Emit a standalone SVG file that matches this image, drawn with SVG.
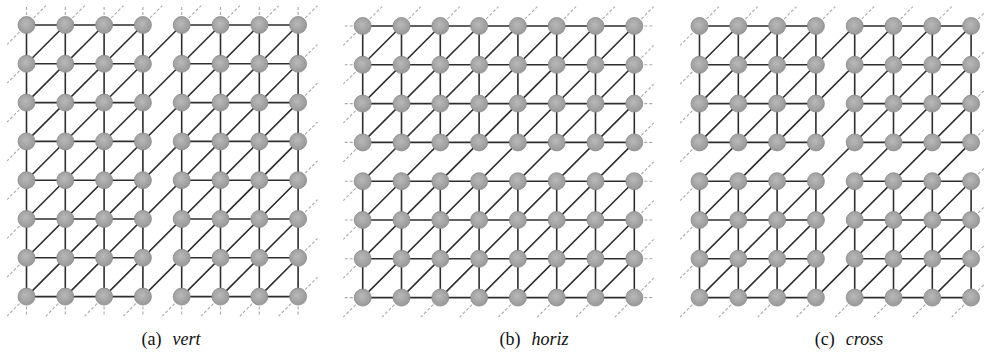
<svg xmlns="http://www.w3.org/2000/svg" width="985" height="354" viewBox="0 0 985 354">
<style>
.e{fill:none;stroke:#2e2e2e;stroke-width:1.6}
.d{fill:none;stroke:#aaaaaa;stroke-width:1.1;stroke-dasharray:3 2}
.nd{fill:url(#ng);stroke:#8a8a8a;stroke-width:0.8}
.cap{font-family:"Liberation Serif","Times New Roman",serif;font-size:18px;fill:#111}
.it{font-style:italic}
</style>
<defs>
<radialGradient id="ng" cx="45%" cy="42%" r="60%">
<stop offset="0" stop-color="#b9b9b9"/>
<stop offset="1" stop-color="#979797"/>
</radialGradient>
<circle id="nd" class="nd" r="8.5"/>
<path id="diag" class="e" d="M0 38.8L38.8 0M0 77.6L77.6 0M0 116.4L116.4 0M0 155.2L155.2 0M0 194L194 0M0 232.8L232.8 0M0 271.6L271.6 0M38.8 271.6L271.6 38.8M77.6 271.6L271.6 77.6M116.4 271.6L271.6 116.4M155.2 271.6L271.6 155.2M194 271.6L271.6 194M232.8 271.6L271.6 232.8"/>
<path id="dstub" class="d" d="M0 0l-19.4 19.4M0 38.8l-19.4 19.4M0 77.6l-19.4 19.4M0 116.4l-19.4 19.4M0 155.2l-19.4 19.4M0 194l-19.4 19.4M0 232.8l-19.4 19.4M0 271.6l-19.4 19.4M38.8 271.6l-19.4 19.4M77.6 271.6l-19.4 19.4M116.4 271.6l-19.4 19.4M155.2 271.6l-19.4 19.4M194 271.6l-19.4 19.4M232.8 271.6l-19.4 19.4M271.6 271.6l-19.4 19.4M0 0l19.4 -19.4M38.8 0l19.4 -19.4M77.6 0l19.4 -19.4M116.4 0l19.4 -19.4M155.2 0l19.4 -19.4M194 0l19.4 -19.4M232.8 0l19.4 -19.4M271.6 0l19.4 -19.4M271.6 38.8l19.4 -19.4M271.6 77.6l19.4 -19.4M271.6 116.4l19.4 -19.4M271.6 155.2l19.4 -19.4M271.6 194l19.4 -19.4M271.6 232.8l19.4 -19.4M271.6 271.6l19.4 -19.4"/>
</defs>

<!-- Panel (a) vert -->
<g id="panel-a" transform="translate(26.5,25)">
<g id="a-connectors">
<use href="#dstub"/>
<path class="d" d="M0 0v-19M38.8 0v-19M77.6 0v-19M116.4 0v-19M155.2 0v-19M194 0v-19M232.8 0v-19M271.6 0v-19M0 271.6v19M38.8 271.6v19M77.6 271.6v19M116.4 271.6v19M155.2 271.6v19M194 271.6v19M232.8 271.6v19M271.6 271.6v19"/>
<path class="e" d="M0 0H116.4M155.2 0H271.6M0 38.8H116.4M155.2 38.8H271.6M0 77.6H116.4M155.2 77.6H271.6M0 116.4H116.4M155.2 116.4H271.6M0 155.2H116.4M155.2 155.2H271.6M0 194H116.4M155.2 194H271.6M0 232.8H116.4M155.2 232.8H271.6M0 271.6H116.4M155.2 271.6H271.6"/>
<path class="e" d="M0 0V271.6M38.8 0V271.6M77.6 0V271.6M116.4 0V271.6M155.2 0V271.6M194 0V271.6M232.8 0V271.6M271.6 0V271.6"/>
<use href="#diag"/>
</g>
<g id="a-nodes">
<g id="a-0-0"><use href="#nd" x="0" y="0"/></g><g id="a-0-1"><use href="#nd" x="38.8" y="0"/></g><g id="a-0-2"><use href="#nd" x="77.6" y="0"/></g><g id="a-0-3"><use href="#nd" x="116.4" y="0"/></g><g id="a-0-4"><use href="#nd" x="155.2" y="0"/></g><g id="a-0-5"><use href="#nd" x="194" y="0"/></g><g id="a-0-6"><use href="#nd" x="232.8" y="0"/></g><g id="a-0-7"><use href="#nd" x="271.6" y="0"/></g>
<g id="a-1-0"><use href="#nd" x="0" y="38.8"/></g><g id="a-1-1"><use href="#nd" x="38.8" y="38.8"/></g><g id="a-1-2"><use href="#nd" x="77.6" y="38.8"/></g><g id="a-1-3"><use href="#nd" x="116.4" y="38.8"/></g><g id="a-1-4"><use href="#nd" x="155.2" y="38.8"/></g><g id="a-1-5"><use href="#nd" x="194" y="38.8"/></g><g id="a-1-6"><use href="#nd" x="232.8" y="38.8"/></g><g id="a-1-7"><use href="#nd" x="271.6" y="38.8"/></g>
<g id="a-2-0"><use href="#nd" x="0" y="77.6"/></g><g id="a-2-1"><use href="#nd" x="38.8" y="77.6"/></g><g id="a-2-2"><use href="#nd" x="77.6" y="77.6"/></g><g id="a-2-3"><use href="#nd" x="116.4" y="77.6"/></g><g id="a-2-4"><use href="#nd" x="155.2" y="77.6"/></g><g id="a-2-5"><use href="#nd" x="194" y="77.6"/></g><g id="a-2-6"><use href="#nd" x="232.8" y="77.6"/></g><g id="a-2-7"><use href="#nd" x="271.6" y="77.6"/></g>
<g id="a-3-0"><use href="#nd" x="0" y="116.4"/></g><g id="a-3-1"><use href="#nd" x="38.8" y="116.4"/></g><g id="a-3-2"><use href="#nd" x="77.6" y="116.4"/></g><g id="a-3-3"><use href="#nd" x="116.4" y="116.4"/></g><g id="a-3-4"><use href="#nd" x="155.2" y="116.4"/></g><g id="a-3-5"><use href="#nd" x="194" y="116.4"/></g><g id="a-3-6"><use href="#nd" x="232.8" y="116.4"/></g><g id="a-3-7"><use href="#nd" x="271.6" y="116.4"/></g>
<g id="a-4-0"><use href="#nd" x="0" y="155.2"/></g><g id="a-4-1"><use href="#nd" x="38.8" y="155.2"/></g><g id="a-4-2"><use href="#nd" x="77.6" y="155.2"/></g><g id="a-4-3"><use href="#nd" x="116.4" y="155.2"/></g><g id="a-4-4"><use href="#nd" x="155.2" y="155.2"/></g><g id="a-4-5"><use href="#nd" x="194" y="155.2"/></g><g id="a-4-6"><use href="#nd" x="232.8" y="155.2"/></g><g id="a-4-7"><use href="#nd" x="271.6" y="155.2"/></g>
<g id="a-5-0"><use href="#nd" x="0" y="194"/></g><g id="a-5-1"><use href="#nd" x="38.8" y="194"/></g><g id="a-5-2"><use href="#nd" x="77.6" y="194"/></g><g id="a-5-3"><use href="#nd" x="116.4" y="194"/></g><g id="a-5-4"><use href="#nd" x="155.2" y="194"/></g><g id="a-5-5"><use href="#nd" x="194" y="194"/></g><g id="a-5-6"><use href="#nd" x="232.8" y="194"/></g><g id="a-5-7"><use href="#nd" x="271.6" y="194"/></g>
<g id="a-6-0"><use href="#nd" x="0" y="232.8"/></g><g id="a-6-1"><use href="#nd" x="38.8" y="232.8"/></g><g id="a-6-2"><use href="#nd" x="77.6" y="232.8"/></g><g id="a-6-3"><use href="#nd" x="116.4" y="232.8"/></g><g id="a-6-4"><use href="#nd" x="155.2" y="232.8"/></g><g id="a-6-5"><use href="#nd" x="194" y="232.8"/></g><g id="a-6-6"><use href="#nd" x="232.8" y="232.8"/></g><g id="a-6-7"><use href="#nd" x="271.6" y="232.8"/></g>
<g id="a-7-0"><use href="#nd" x="0" y="271.6"/></g><g id="a-7-1"><use href="#nd" x="38.8" y="271.6"/></g><g id="a-7-2"><use href="#nd" x="77.6" y="271.6"/></g><g id="a-7-3"><use href="#nd" x="116.4" y="271.6"/></g><g id="a-7-4"><use href="#nd" x="155.2" y="271.6"/></g><g id="a-7-5"><use href="#nd" x="194" y="271.6"/></g><g id="a-7-6"><use href="#nd" x="232.8" y="271.6"/></g><g id="a-7-7"><use href="#nd" x="271.6" y="271.6"/></g>
</g>
</g>

<!-- Panel (b) horiz -->
<g id="panel-b" transform="translate(362.7,26)">
<g id="b-connectors">
<use href="#dstub"/>
<path class="d" d="M0 0h-19M0 38.8h-19M0 77.6h-19M0 116.4h-19M0 155.2h-19M0 194h-19M0 232.8h-19M0 271.6h-19M271.6 0h19M271.6 38.8h19M271.6 77.6h19M271.6 116.4h19M271.6 155.2h19M271.6 194h19M271.6 232.8h19M271.6 271.6h19"/>
<path class="e" d="M0 0H271.6M0 38.8H271.6M0 77.6H271.6M0 116.4H271.6M0 155.2H271.6M0 194H271.6M0 232.8H271.6M0 271.6H271.6"/>
<path class="e" d="M0 0V116.4M0 155.2V271.6M38.8 0V116.4M38.8 155.2V271.6M77.6 0V116.4M77.6 155.2V271.6M116.4 0V116.4M116.4 155.2V271.6M155.2 0V116.4M155.2 155.2V271.6M194 0V116.4M194 155.2V271.6M232.8 0V116.4M232.8 155.2V271.6M271.6 0V116.4M271.6 155.2V271.6"/>
<use href="#diag"/>
</g>
<g id="b-nodes">
<g id="b-0-0"><use href="#nd" x="0" y="0"/></g><g id="b-0-1"><use href="#nd" x="38.8" y="0"/></g><g id="b-0-2"><use href="#nd" x="77.6" y="0"/></g><g id="b-0-3"><use href="#nd" x="116.4" y="0"/></g><g id="b-0-4"><use href="#nd" x="155.2" y="0"/></g><g id="b-0-5"><use href="#nd" x="194" y="0"/></g><g id="b-0-6"><use href="#nd" x="232.8" y="0"/></g><g id="b-0-7"><use href="#nd" x="271.6" y="0"/></g>
<g id="b-1-0"><use href="#nd" x="0" y="38.8"/></g><g id="b-1-1"><use href="#nd" x="38.8" y="38.8"/></g><g id="b-1-2"><use href="#nd" x="77.6" y="38.8"/></g><g id="b-1-3"><use href="#nd" x="116.4" y="38.8"/></g><g id="b-1-4"><use href="#nd" x="155.2" y="38.8"/></g><g id="b-1-5"><use href="#nd" x="194" y="38.8"/></g><g id="b-1-6"><use href="#nd" x="232.8" y="38.8"/></g><g id="b-1-7"><use href="#nd" x="271.6" y="38.8"/></g>
<g id="b-2-0"><use href="#nd" x="0" y="77.6"/></g><g id="b-2-1"><use href="#nd" x="38.8" y="77.6"/></g><g id="b-2-2"><use href="#nd" x="77.6" y="77.6"/></g><g id="b-2-3"><use href="#nd" x="116.4" y="77.6"/></g><g id="b-2-4"><use href="#nd" x="155.2" y="77.6"/></g><g id="b-2-5"><use href="#nd" x="194" y="77.6"/></g><g id="b-2-6"><use href="#nd" x="232.8" y="77.6"/></g><g id="b-2-7"><use href="#nd" x="271.6" y="77.6"/></g>
<g id="b-3-0"><use href="#nd" x="0" y="116.4"/></g><g id="b-3-1"><use href="#nd" x="38.8" y="116.4"/></g><g id="b-3-2"><use href="#nd" x="77.6" y="116.4"/></g><g id="b-3-3"><use href="#nd" x="116.4" y="116.4"/></g><g id="b-3-4"><use href="#nd" x="155.2" y="116.4"/></g><g id="b-3-5"><use href="#nd" x="194" y="116.4"/></g><g id="b-3-6"><use href="#nd" x="232.8" y="116.4"/></g><g id="b-3-7"><use href="#nd" x="271.6" y="116.4"/></g>
<g id="b-4-0"><use href="#nd" x="0" y="155.2"/></g><g id="b-4-1"><use href="#nd" x="38.8" y="155.2"/></g><g id="b-4-2"><use href="#nd" x="77.6" y="155.2"/></g><g id="b-4-3"><use href="#nd" x="116.4" y="155.2"/></g><g id="b-4-4"><use href="#nd" x="155.2" y="155.2"/></g><g id="b-4-5"><use href="#nd" x="194" y="155.2"/></g><g id="b-4-6"><use href="#nd" x="232.8" y="155.2"/></g><g id="b-4-7"><use href="#nd" x="271.6" y="155.2"/></g>
<g id="b-5-0"><use href="#nd" x="0" y="194"/></g><g id="b-5-1"><use href="#nd" x="38.8" y="194"/></g><g id="b-5-2"><use href="#nd" x="77.6" y="194"/></g><g id="b-5-3"><use href="#nd" x="116.4" y="194"/></g><g id="b-5-4"><use href="#nd" x="155.2" y="194"/></g><g id="b-5-5"><use href="#nd" x="194" y="194"/></g><g id="b-5-6"><use href="#nd" x="232.8" y="194"/></g><g id="b-5-7"><use href="#nd" x="271.6" y="194"/></g>
<g id="b-6-0"><use href="#nd" x="0" y="232.8"/></g><g id="b-6-1"><use href="#nd" x="38.8" y="232.8"/></g><g id="b-6-2"><use href="#nd" x="77.6" y="232.8"/></g><g id="b-6-3"><use href="#nd" x="116.4" y="232.8"/></g><g id="b-6-4"><use href="#nd" x="155.2" y="232.8"/></g><g id="b-6-5"><use href="#nd" x="194" y="232.8"/></g><g id="b-6-6"><use href="#nd" x="232.8" y="232.8"/></g><g id="b-6-7"><use href="#nd" x="271.6" y="232.8"/></g>
<g id="b-7-0"><use href="#nd" x="0" y="271.6"/></g><g id="b-7-1"><use href="#nd" x="38.8" y="271.6"/></g><g id="b-7-2"><use href="#nd" x="77.6" y="271.6"/></g><g id="b-7-3"><use href="#nd" x="116.4" y="271.6"/></g><g id="b-7-4"><use href="#nd" x="155.2" y="271.6"/></g><g id="b-7-5"><use href="#nd" x="194" y="271.6"/></g><g id="b-7-6"><use href="#nd" x="232.8" y="271.6"/></g><g id="b-7-7"><use href="#nd" x="271.6" y="271.6"/></g>
</g>
</g>

<!-- Panel (c) cross -->
<g id="panel-c" transform="translate(699.5,26)">
<g id="c-connectors">
<use href="#dstub"/>
<path class="e" d="M0 0H116.4M155.2 0H271.6M0 38.8H116.4M155.2 38.8H271.6M0 77.6H116.4M155.2 77.6H271.6M0 116.4H116.4M155.2 116.4H271.6M0 155.2H116.4M155.2 155.2H271.6M0 194H116.4M155.2 194H271.6M0 232.8H116.4M155.2 232.8H271.6M0 271.6H116.4M155.2 271.6H271.6"/>
<path class="e" d="M0 0V116.4M0 155.2V271.6M38.8 0V116.4M38.8 155.2V271.6M77.6 0V116.4M77.6 155.2V271.6M116.4 0V116.4M116.4 155.2V271.6M155.2 0V116.4M155.2 155.2V271.6M194 0V116.4M194 155.2V271.6M232.8 0V116.4M232.8 155.2V271.6M271.6 0V116.4M271.6 155.2V271.6"/>
<use href="#diag"/>
</g>
<g id="c-nodes">
<g id="c-0-0"><use href="#nd" x="0" y="0"/></g><g id="c-0-1"><use href="#nd" x="38.8" y="0"/></g><g id="c-0-2"><use href="#nd" x="77.6" y="0"/></g><g id="c-0-3"><use href="#nd" x="116.4" y="0"/></g><g id="c-0-4"><use href="#nd" x="155.2" y="0"/></g><g id="c-0-5"><use href="#nd" x="194" y="0"/></g><g id="c-0-6"><use href="#nd" x="232.8" y="0"/></g><g id="c-0-7"><use href="#nd" x="271.6" y="0"/></g>
<g id="c-1-0"><use href="#nd" x="0" y="38.8"/></g><g id="c-1-1"><use href="#nd" x="38.8" y="38.8"/></g><g id="c-1-2"><use href="#nd" x="77.6" y="38.8"/></g><g id="c-1-3"><use href="#nd" x="116.4" y="38.8"/></g><g id="c-1-4"><use href="#nd" x="155.2" y="38.8"/></g><g id="c-1-5"><use href="#nd" x="194" y="38.8"/></g><g id="c-1-6"><use href="#nd" x="232.8" y="38.8"/></g><g id="c-1-7"><use href="#nd" x="271.6" y="38.8"/></g>
<g id="c-2-0"><use href="#nd" x="0" y="77.6"/></g><g id="c-2-1"><use href="#nd" x="38.8" y="77.6"/></g><g id="c-2-2"><use href="#nd" x="77.6" y="77.6"/></g><g id="c-2-3"><use href="#nd" x="116.4" y="77.6"/></g><g id="c-2-4"><use href="#nd" x="155.2" y="77.6"/></g><g id="c-2-5"><use href="#nd" x="194" y="77.6"/></g><g id="c-2-6"><use href="#nd" x="232.8" y="77.6"/></g><g id="c-2-7"><use href="#nd" x="271.6" y="77.6"/></g>
<g id="c-3-0"><use href="#nd" x="0" y="116.4"/></g><g id="c-3-1"><use href="#nd" x="38.8" y="116.4"/></g><g id="c-3-2"><use href="#nd" x="77.6" y="116.4"/></g><g id="c-3-3"><use href="#nd" x="116.4" y="116.4"/></g><g id="c-3-4"><use href="#nd" x="155.2" y="116.4"/></g><g id="c-3-5"><use href="#nd" x="194" y="116.4"/></g><g id="c-3-6"><use href="#nd" x="232.8" y="116.4"/></g><g id="c-3-7"><use href="#nd" x="271.6" y="116.4"/></g>
<g id="c-4-0"><use href="#nd" x="0" y="155.2"/></g><g id="c-4-1"><use href="#nd" x="38.8" y="155.2"/></g><g id="c-4-2"><use href="#nd" x="77.6" y="155.2"/></g><g id="c-4-3"><use href="#nd" x="116.4" y="155.2"/></g><g id="c-4-4"><use href="#nd" x="155.2" y="155.2"/></g><g id="c-4-5"><use href="#nd" x="194" y="155.2"/></g><g id="c-4-6"><use href="#nd" x="232.8" y="155.2"/></g><g id="c-4-7"><use href="#nd" x="271.6" y="155.2"/></g>
<g id="c-5-0"><use href="#nd" x="0" y="194"/></g><g id="c-5-1"><use href="#nd" x="38.8" y="194"/></g><g id="c-5-2"><use href="#nd" x="77.6" y="194"/></g><g id="c-5-3"><use href="#nd" x="116.4" y="194"/></g><g id="c-5-4"><use href="#nd" x="155.2" y="194"/></g><g id="c-5-5"><use href="#nd" x="194" y="194"/></g><g id="c-5-6"><use href="#nd" x="232.8" y="194"/></g><g id="c-5-7"><use href="#nd" x="271.6" y="194"/></g>
<g id="c-6-0"><use href="#nd" x="0" y="232.8"/></g><g id="c-6-1"><use href="#nd" x="38.8" y="232.8"/></g><g id="c-6-2"><use href="#nd" x="77.6" y="232.8"/></g><g id="c-6-3"><use href="#nd" x="116.4" y="232.8"/></g><g id="c-6-4"><use href="#nd" x="155.2" y="232.8"/></g><g id="c-6-5"><use href="#nd" x="194" y="232.8"/></g><g id="c-6-6"><use href="#nd" x="232.8" y="232.8"/></g><g id="c-6-7"><use href="#nd" x="271.6" y="232.8"/></g>
<g id="c-7-0"><use href="#nd" x="0" y="271.6"/></g><g id="c-7-1"><use href="#nd" x="38.8" y="271.6"/></g><g id="c-7-2"><use href="#nd" x="77.6" y="271.6"/></g><g id="c-7-3"><use href="#nd" x="116.4" y="271.6"/></g><g id="c-7-4"><use href="#nd" x="155.2" y="271.6"/></g><g id="c-7-5"><use href="#nd" x="194" y="271.6"/></g><g id="c-7-6"><use href="#nd" x="232.8" y="271.6"/></g><g id="c-7-7"><use href="#nd" x="271.6" y="271.6"/></g>
</g>
</g>

<g id="captions">
<text class="cap" x="171" y="345" text-anchor="middle">(a)<tspan class="it" dx="11">vert</tspan></text>
<text class="cap" x="534" y="345" text-anchor="middle">(b)<tspan class="it" dx="11">horiz</tspan></text>
<text class="cap" x="849" y="345" text-anchor="middle">(c)<tspan class="it" dx="11">cross</tspan></text>
</g>
</svg>
